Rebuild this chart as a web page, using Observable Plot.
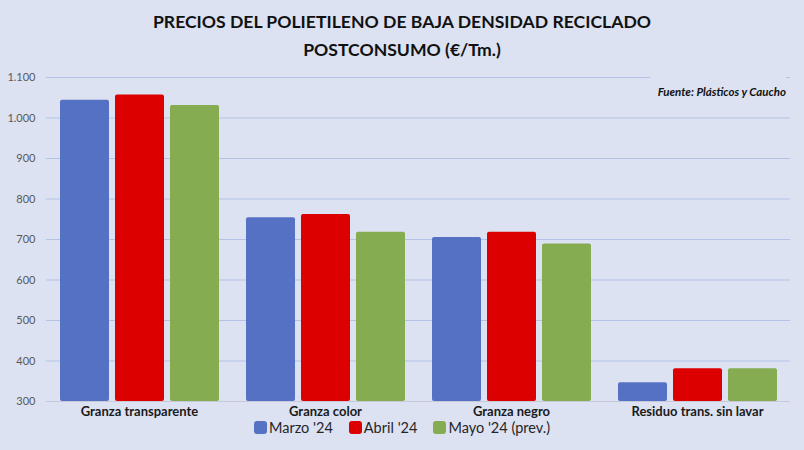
<!DOCTYPE html>
<html>
<head>
<meta charset="utf-8">
<script src="https://cdn.jsdelivr.net/npm/d3@7"></script>
<script src="https://cdn.jsdelivr.net/npm/@observablehq/plot@0.6"></script>
<style>
  html, body { margin: 0; padding: 0; background: #DCE2F2; }
  #wrap { position: relative; width: 804px; height: 450px; background: #DCE2F2; overflow: hidden; font-family: Lato, "Noto Sans", sans-serif; }
  #title { position: absolute; left: 0; top: 8px; width: 804px; text-align: center; font-size: 17.6px; font-weight: bold; line-height: 28px; color: #111; }
  #chart { position: absolute; left: 0; top: 62px; }
  #source { position: absolute; left: 650px; top: 74px; width: 136px; height: 26px; background: #DCE2F2; text-align: right; font-size: 11.5px; font-weight: bold; font-style: italic; line-height: 36px; color: #111; }
  #legend { position: absolute; left: 0; top: 419px; width: 804px; display: flex; justify-content: center; font-size: 14.5px; color: #262626; }
  .item { display: flex; align-items: center; margin: 0 8px; }
  .sw { width: 13px; height: 13px; border-radius: 3px; margin-right: 2px; }
</style>
</head>
<body>
<div id="wrap">
  <div id="title">PRECIOS DEL POLIETILENO DE BAJA DENSIDAD RECICLADO<br>POSTCONSUMO (€/Tm.)</div>
  <div id="chart"></div>
  <div id="source">Fuente: Plásticos y Caucho</div>
  <div id="legend"></div>
</div>
<script>
const categories = ["Granza transparente", "Granza color", "Granza negro", "Residuo trans. sin lavar"];
const seriesNames = ["Marzo '24", "Abril '24", "Mayo '24 (prev.)"];
const marzo = [1044, 754, 705, 346];
const abril = [1057, 762, 718, 381];
const mayo = [1031, 718, 689, 381];
const colors = ["#5571C3", "#DD0000", "#85AC50"];
const yTicks = [300, 400, 500, 600, 700, 800, 900, 1000, 1100];

const seriesValues = [marzo, abril, mayo];
const data = [];
categories.forEach((c, i) => {
  seriesNames.forEach((s, j) => data.push({category: c, series: s, value: seriesValues[j][i]}));
});

const fmt = d => d3.format(",")(d).replace(/,/g, ".");

const plot = Plot.plot({
  width: 804,
  height: 360,
  marginLeft: 46,
  marginRight: 14,
  marginTop: 15,
  marginBottom: 21,
  style: {background: "transparent", fontFamily: "Lato, 'Noto Sans', sans-serif"},
  fx: {domain: categories, padding: 0, label: null},
  x: {domain: seriesNames, paddingInner: 0.11, paddingOuter: 0.24, axis: null},
  y: {domain: [300, 1100], label: null, axis: null},
  color: {domain: seriesNames, range: colors},
  marks: [
    Plot.gridY(yTicks.filter(d => d > 300), {stroke: "#B3C2E5", strokeOpacity: 1}),
    Plot.ruleY([300], {stroke: "#C8C9D8", strokeOpacity: 1}),
    Plot.barY(data, {fx: "category", x: "series", y1: 300, y2: "value", fill: "series", rx: 2}),
    Plot.axisY(yTicks, {anchor: "left", tickSize: 0, tickPadding: 11, tickFormat: fmt, fontSize: 11, fill: "#595959", label: null}),
    Plot.axisFx({anchor: "bottom", tickSize: 0, tickPadding: 5, fontSize: 13, fontWeight: "bold", fill: "#1a1a1a", label: null})
  ]
});
document.getElementById("chart").appendChild(plot);

const legend = document.getElementById("legend");
seriesNames.forEach((s, i) => {
  const it = document.createElement("div");
  it.className = "item";
  const sw = document.createElement("div");
  sw.className = "sw";
  sw.style.background = colors[i];
  const t = document.createElement("span");
  t.textContent = s;
  it.appendChild(sw);
  it.appendChild(t);
  legend.appendChild(it);
});
</script>
</body>
</html>
